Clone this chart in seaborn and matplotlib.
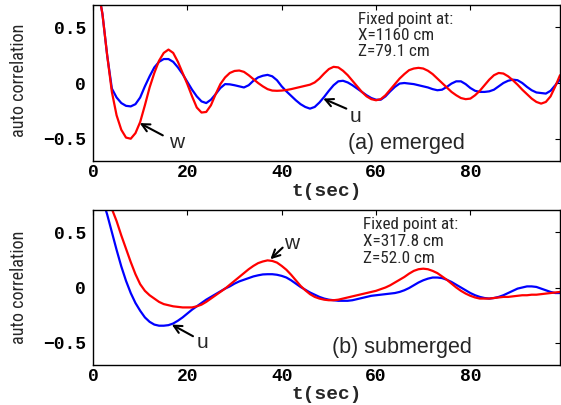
import numpy as np
import pandas as pd
import matplotlib
matplotlib.use("Agg")
import matplotlib.pyplot as plt
from matplotlib import font_manager
from matplotlib.font_manager import FontProperties
import seaborn as sns

# ---------------- data ----------------
T = list(range(0, 100))  # time, s

# (a) emerged
U_EMERGED = [1.00, 0.86, 0.62, 0.25, -0.05, -0.13, -0.18, -0.205, -0.21, -0.19,
             -0.13, -0.03, 0.06, 0.14, 0.19, 0.215, 0.215, 0.19, 0.14, 0.08,
             0.01, -0.06, -0.12, -0.165, -0.18, -0.15, -0.10, -0.045, -0.01, -0.012,
             -0.02, -0.03, -0.04, -0.02, 0.02, 0.05, 0.065, 0.073, 0.06, 0.025,
             -0.03, -0.075, -0.115, -0.155, -0.19, -0.215, -0.23, -0.215, -0.175, -0.125,
             -0.07, -0.02, 0.015, 0.02, 0.005, -0.02, -0.05, -0.08, -0.11, -0.135,
             -0.15, -0.15, -0.12, -0.075, -0.035, -0.005, 0.0, -0.005, -0.01, -0.02,
             -0.03, -0.04, -0.055, -0.065, -0.06, -0.035, -0.005, 0.015, 0.015, -0.01,
             -0.045, -0.07, -0.08, -0.08, -0.075, -0.06, -0.03, 0.0, 0.02, 0.03,
             0.025, 0.0, -0.035, -0.065, -0.085, -0.09, -0.095, -0.07, -0.02, 0.03]
W_EMERGED = [1.00, 0.86, 0.62, 0.25, -0.08, -0.29, -0.42, -0.49, -0.50, -0.45,
             -0.35, -0.20, -0.04, 0.09, 0.20, 0.27, 0.30, 0.27, 0.19, 0.09,
             -0.01, -0.12, -0.22, -0.265, -0.26, -0.20, -0.10, -0.01, 0.05, 0.09,
             0.108, 0.112, 0.10, 0.07, 0.035, 0.0, -0.03, -0.055, -0.068, -0.07,
             -0.068, -0.063, -0.055, -0.045, -0.035, -0.025, -0.015, 0.005, 0.04, 0.085,
             0.125, 0.145, 0.14, 0.11, 0.07, 0.02, -0.03, -0.08, -0.12, -0.145,
             -0.155, -0.145, -0.11, -0.06, -0.01, 0.04, 0.08, 0.115, 0.13, 0.136,
             0.13, 0.11, 0.08, 0.04, 0.0, -0.04, -0.08, -0.11, -0.135, -0.145,
             -0.14, -0.11, -0.07, -0.02, 0.03, 0.07, 0.09, 0.085, 0.06, 0.025,
             -0.015, -0.06, -0.10, -0.14, -0.17, -0.185, -0.17, -0.12, -0.03, 0.07]

# (b) submerged
U_SUBMERGED = [1.00, 0.93, 0.80, 0.66, 0.50, 0.34, 0.19, 0.06, -0.05, -0.14,
               -0.21, -0.27, -0.31, -0.335, -0.345, -0.345, -0.34, -0.325, -0.30, -0.27,
               -0.235, -0.20, -0.17, -0.14, -0.11, -0.085, -0.06, -0.035, -0.01, 0.01,
               0.035, 0.055, 0.07, 0.085, 0.10, 0.11, 0.118, 0.12, 0.12, 0.115,
               0.105, 0.09, 0.065, 0.035, 0.005, -0.02, -0.045, -0.065, -0.085, -0.10,
               -0.11, -0.115, -0.12, -0.12, -0.12, -0.115, -0.105, -0.095, -0.085, -0.075,
               -0.07, -0.065, -0.06, -0.055, -0.05, -0.04, -0.025, -0.005, 0.02, 0.045,
               0.065, 0.08, 0.09, 0.09, 0.085, 0.07, 0.05, 0.025, 0.0, -0.025,
               -0.05, -0.07, -0.085, -0.095, -0.10, -0.095, -0.085, -0.07, -0.05, -0.03,
               -0.01, 0.0, 0.01, 0.01, 0.005, -0.01, -0.025, -0.04, -0.05, -0.05]
W_SUBMERGED = [1.00, 0.97, 0.90, 0.80, 0.71, 0.60, 0.47, 0.35, 0.23, 0.12,
               0.03, -0.03, -0.07, -0.10, -0.13, -0.15, -0.16, -0.17, -0.175, -0.18,
               -0.18, -0.18, -0.17, -0.155, -0.13, -0.10, -0.07, -0.04, -0.01, 0.025,
               0.06, 0.095, 0.13, 0.165, 0.195, 0.22, 0.235, 0.245, 0.24, 0.225,
               0.195, 0.16, 0.115, 0.065, 0.015, -0.025, -0.06, -0.085, -0.10, -0.11,
               -0.115, -0.115, -0.11, -0.10, -0.09, -0.08, -0.07, -0.06, -0.05, -0.04,
               -0.03, -0.015, 0.0, 0.02, 0.045, 0.07, 0.095, 0.125, 0.15, 0.165,
               0.17, 0.165, 0.15, 0.13, 0.10, 0.07, 0.035, 0.0, -0.03, -0.055,
               -0.075, -0.09, -0.10, -0.10, -0.10, -0.095, -0.09, -0.085, -0.085, -0.08,
               -0.075, -0.07, -0.07, -0.065, -0.065, -0.06, -0.055, -0.05, -0.045, -0.04]

X_TICKS = [0, 20, 40, 60, 80]
X_TICKLABELS = ["0", "20", "40", "60", "80"]
Y_TICKS = [-0.5, 0, 0.5]
Y_TICKLABELS = ["\u22120.5", "0", "0.5"]
PANEL_TITLES = ["(a) emerged", "(b) submerged"]
FIXED_LINES_A = ["Fixed point at:", "X=1160 cm", "Z=79.1 cm"]
FIXED_LINES_B = ["Fixed point at:", "X=317.8 cm", "Z=52.0 cm"]

# ---------------- style ----------------
sns.set_theme(style="white")
plt.rcParams["font.family"] = ["Liberation Sans", "DejaVu Sans"]
plt.rcParams["axes.unicode_minus"] = True


def pick_narrow_font():
    """Find a condensed sans-serif font file if one is installed."""
    entries = font_manager.fontManager.ttflist
    prefs = ["Liberation Sans Narrow", "Roboto Condensed", "Noto Sans Condensed",
             "Open Sans Condensed", "DejaVu Sans Condensed", "Noto Sans",
             "Roboto", "Open Sans", "DejaVu Sans"]
    for name in prefs:
        for f in entries:
            if f.name != name:
                continue
            if f.style != "normal":
                continue
            w = f.weight if isinstance(f.weight, int) else 400
            if w not in (400, "normal", "regular"):
                continue
            if name in ("Noto Sans", "Roboto", "Open Sans", "DejaVu Sans") \
                    and f.stretch != "condensed":
                continue
            return f.fname
    return None


NARROW_FILE = pick_narrow_font()


def narrow_fp(size):
    if NARROW_FILE:
        return FontProperties(fname=NARROW_FILE, size=size)
    return FontProperties(family="Liberation Sans", size=size)


MONO = ["Liberation Mono", "DejaVu Sans Mono"]
BLUE = "#0000ff"
RED = "#ff0000"

fig = plt.figure(figsize=(5.61, 4.05), dpi=100)
ax1 = fig.add_axes([93 / 561, (405 - 161) / 405, 467 / 561, 156 / 405])
ax2 = fig.add_axes([93 / 561, (405 - 365) / 405, 467 / 561, 155 / 405])


def draw(ax, u, w):
    df = pd.DataFrame({
        "t": T + T,
        "r": u + w,
        "comp": ["u"] * len(T) + ["w"] * len(T),
    })
    sns.lineplot(data=df, x="t", y="r", hue="comp", hue_order=["u", "w"],
                 palette={"u": BLUE, "w": RED}, estimator=None, sort=False,
                 legend=False, linewidth=1.6, ax=ax)
    for line in ax.get_lines():
        line.set_solid_joinstyle("round")
    ax.set_xlim(0, 99)
    ax.set_ylim(-0.7, 0.7)
    ax.set_xticks(X_TICKS)
    ax.set_yticks(Y_TICKS)
    tick_font = dict(family=MONO, weight="bold", size=13)
    ax.set_xticklabels(X_TICKLABELS, fontdict=tick_font)
    ax.set_yticklabels(Y_TICKLABELS, fontdict=tick_font)
    ax.tick_params(direction="in", length=3.5, width=0.8, top=True, right=True,
                   colors="black")
    ax.tick_params(axis="x", pad=2)
    ax.tick_params(axis="y", pad=5)
    for sp in ax.spines.values():
        sp.set_visible(True)
        sp.set_color("black")
        sp.set_linewidth(1.0)
    ax.set_xlabel("t(sec)", family=MONO, weight="bold", size=14)
    ax.set_ylabel("auto correlation", fontproperties=narrow_fp(14))
    ax.grid(False)


def arrow(ax, tip, tail):
    ax.annotate("", xy=tip, xytext=tail,
                arrowprops=dict(arrowstyle="->", color="black", lw=1.5,
                                shrinkA=0, shrinkB=0, mutation_scale=14))


draw(ax1, U_EMERGED, W_EMERGED)
draw(ax2, U_SUBMERGED, W_SUBMERGED)

ax1.xaxis.set_label_coords(0.5, -0.14)
ax2.xaxis.set_label_coords(0.5, -0.135)
ax1.yaxis.set_label_coords(-0.139, 0.52)
ax2.yaxis.set_label_coords(-0.139, 0.50)

# panel titles
ax1.text(54.1, -0.59, PANEL_TITLES[0], fontsize=15.5, va="baseline", ha="left")
ax2.text(50.7, -0.59, PANEL_TITLES[1], fontsize=15.5, va="baseline", ha="left")

# fixed point text (three lines each)
fixed_texts = []
for ax, x0, lines, ys in [(ax1, 56.2, FIXED_LINES_A, [0.527, 0.385, 0.239]),
                          (ax2, 57.2, FIXED_LINES_B, [0.525, 0.375, 0.225])]:
    for line, y in zip(lines, ys):
        fixed_texts.append(ax.text(x0, y, line, fontproperties=narrow_fp(13),
                                   va="baseline", ha="left"))

# component labels and arrows
arrow(ax1, (9.9, -0.36), (14.8, -0.47))
ax1.text(17.8, -0.535, "w", fontsize=15, ha="center", va="center")
arrow(ax1, (48.8, -0.14), (53.7, -0.23))
ax1.text(55.6, -0.30, "u", fontsize=15, ha="center", va="center")
arrow(ax2, (16.7, -0.335), (21.2, -0.44))
ax2.text(23.3, -0.50, "u", fontsize=15, ha="center", va="center")
arrow(ax2, (37.6, 0.255), (40.2, 0.36))
ax2.text(42.0, 0.40, "w", fontsize=15, ha="center", va="center")

# fit the narrow texts to the lengths seen in the reference
fig.canvas.draw()
renderer = fig.canvas.get_renderer()
for ax in (ax1, ax2):
    lab = ax.yaxis.label
    h = lab.get_window_extent(renderer).height
    lab.set_fontsize(lab.get_fontsize() * 114.0 / h)
for txt in fixed_texts:
    if txt.get_text().startswith("Fixed"):
        wpx = txt.get_window_extent(renderer).width
        fit = txt.get_fontsize() * 102.0 / wpx
        size = 0.5 * (fit + 11.5)
        for other in fixed_texts:
            if other.axes is txt.axes:
                other.set_fontsize(size)

fig.savefig("out.png", dpi=100)
